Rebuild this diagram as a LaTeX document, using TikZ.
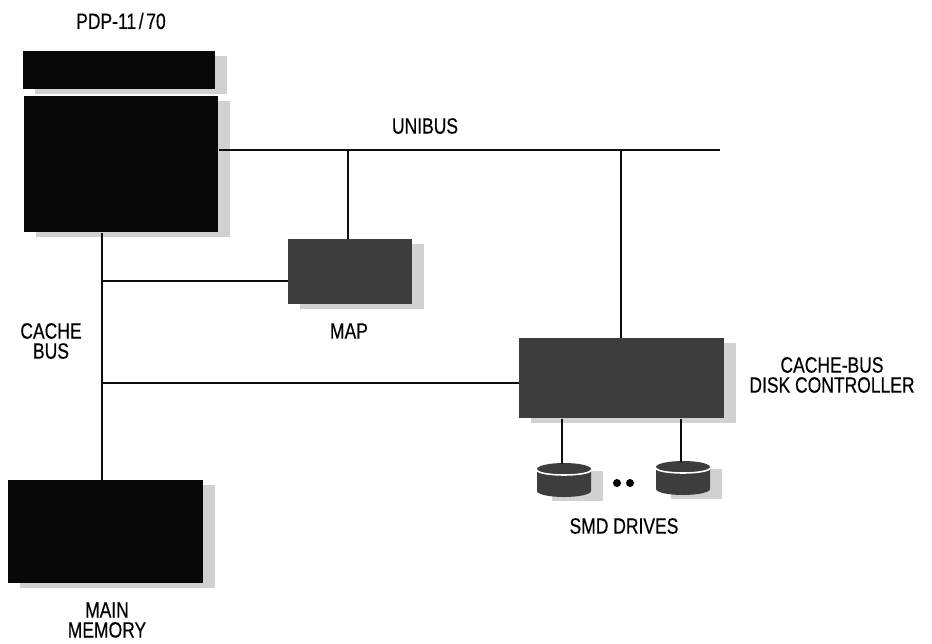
\documentclass[tikz,border=0pt]{standalone}
\usepackage{fontspec}
\setmainfont[FakeStretch = 0.79, FakeBold = 0.4]{Liberation Sans}
\usetikzlibrary{calc}
\definecolor{inkdark}{gray}{0.03}
\definecolor{inkmid}{gray}{0.24}
\definecolor{shadowgray}{gray}{0.82}
\tikzset{
  px/.style = {x = 0.02cm, y = -0.02cm},
  shadow/.style = {fill = shadowgray, draw = none},
  wire/.style = {line width = 1.4pt, draw = black!95},
  caption/.style = {font = \fontsize{12.6}{11.4}\selectfont, align = center, inner sep = 0pt, text = black}
}
% x y w h name fill
\newcommand{\drawblock}[6]{
  \fill[shadow] ($(#1, #2) + (12, 5)$) rectangle ++(#3, #4);
  \node[fill = #6, draw = none, minimum width = #3*0.02cm, minimum height = #4*0.02cm,
  inner sep = 0pt, anchor = north west] (#5) at (#1, #2) {};
}
\begin{document}
\begin{tikzpicture}[px]
  \useasboundingbox (0, 0) rectangle (932, 643);

  \drawblock{23}{51}{192}{38}{console}{inkdark}
  \drawblock{24}{96}{194}{136}{cpu}{inkdark}
  \drawblock{288}{239}{124}{65}{mapbox}{inkmid}
  \drawblock{519}{338}{205}{80}{controller}{inkmid}
  \drawblock{8}{480}{195}{103}{memory}{inkdark}

  \coordinate (uniend) at (720, 150);
  \coordinate (uniA) at (348, 150);
  \coordinate (uniB) at (621, 150);
  \coordinate (cacheA) at (102, 281);
  \coordinate (cacheB) at (102, 383);

  \draw[wire] (cpu.east |- uniend) -- (uniend);
  \draw[wire] (uniA) -- (uniA |- mapbox.north);
  \draw[wire] (uniB) -- (uniB |- controller.north);
  \draw[wire] (cacheA |- cpu.south) -- (cacheA |- memory.north);
  \draw[wire] (cacheA) -- (cacheA -| mapbox.west);
  \draw[wire] (cacheB) -- (cacheB -| controller.west);

  % drives
  \foreach \name/\xc/\yc in {driveA/564/469, driveB/683/467} {
    \fill[shadow] (\xc - 12, \yc + 2) rectangle (\xc + 39, \yc + 32);
    \fill[inkmid] (\xc - 27, \yc) arc[start angle = 180, end angle = 0, x radius = 27, y radius = -6]
    -- (\xc + 27, \yc + 22) arc[start angle = 0, end angle = -180, x radius = 27, y radius = -6] -- cycle;
    \draw[line width = 0.9pt, white] (\xc - 27, \yc + 1) arc[start angle = 180, end angle = 360, x radius = 27, y radius = -5];
    \coordinate (\name) at (\xc - 2, \yc - 5);
    \draw[wire] (\name |- controller.south) -- (\name);
  }
  \fill[black] (617, 483) circle[radius = 4];
  \fill[black] (630, 483) circle[radius = 4];

  \node[caption] (pdplabel) at (121, 21) {PDP-11\kern1.5pt/\kern1.5pt70};
  \node[caption] (unilabel) at (425, 126) {UNIBUS};
  \node[caption] (maplabel) at (349, 331) {MAP};
  \node[caption] (cachelabel) at (51, 341) {CACHE\\BUS};
  \node[caption] (ctrllabel) at (832, 375) {CACHE-BUS\\DISK CONTROLLER};
  \node[caption] (smdlabel) at (624, 526) {SMD DRIVES};
  \node[caption] (memlabel) at (107, 620) {MAIN\\MEMORY};
\end{tikzpicture}
\end{document}
